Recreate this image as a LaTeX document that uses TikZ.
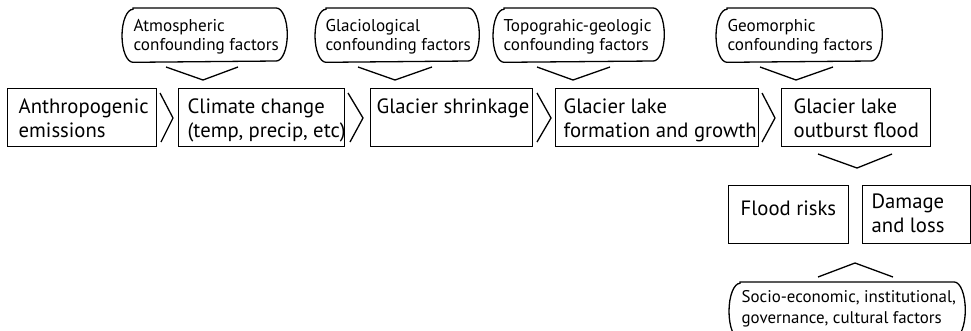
\documentclass[tikz,border=0pt]{standalone}
\usepackage{fontspec}
\setmainfont{PT Sans}
\usetikzlibrary{calc}
\newcommand\factorshape[1]{%
  \draw[line width=1.3pt] ([xshift=11pt]#1.north west) -- ([xshift=-11pt]#1.north east)
    arc[start angle=90, end angle=-90, x radius=11pt, y radius=0.5*\pgfkeysvalueof{/pgf/minimum height}]
    -- ([xshift=11pt]#1.south west)
    arc[start angle=270, end angle=90, x radius=11pt, y radius=0.5*\pgfkeysvalueof{/pgf/minimum height}]
    -- cycle;}
\begin{document}
\begin{tikzpicture}[x=1pt,y=-1pt,
  line width=1.3pt,
  mainbox/.style={draw, anchor=north west, inner sep=0pt, minimum height=58pt},
  factorbox/.style={anchor=north west, inner sep=0pt, minimum height=53pt},
  maintext/.style={anchor=base west, inner sep=0pt, align=left, font=\fontsize{20.7}{24}\selectfont},
  factortext/.style={anchor=base west, inner sep=0pt, align=left, font=\fontsize{17.1}{19}\selectfont},
  chev/.style={line width=1.3pt, line join=miter}
]
\useasboundingbox (0,0) rectangle (971,330);
% main row boxes
\node[mainbox, minimum width=149pt] (b1) at (7,88) {};
\node[mainbox, minimum width=166pt] (b2) at (178,88) {};
\node[mainbox, minimum width=162pt] (b3) at (370,88) {};
\node[mainbox, minimum width=203pt] (b4) at (555,88) {};
\node[mainbox, minimum width=149pt] (b5) at (781,88) {};
\node[maintext] (t1) at (18,137) {Anthropogenic\\emissions};
\node[maintext] (t2) at (187,137) {Climate change\\(temp, precip, etc)};
\node[maintext] (t3) at (376,113) {Glacier shrinkage};
\node[maintext] (t4) at (563,137) {Glacier lake\\formation and growth};
\node[maintext] (t5) at (793,137) {Glacier lake\\outburst flood};
% factor boxes
\begin{scope}[minimum height=53pt]
\node[factorbox, minimum width=164pt] (f1) at (122,8) {};
\node[factorbox, minimum width=163pt] (f2) at (315,8) {};
\node[factorbox, minimum width=170pt] (f3) at (493,8) {};
\node[factorbox, minimum width=165pt] (f4) at (716,8) {};
\factorshape{f1}
\factorshape{f2}
\factorshape{f3}
\factorshape{f4}
\end{scope}
\node[factortext] (g1) at (133,50) {Atmospheric\\confounding factors};
\node[factortext] (g2) at (325,50) {Glaciological\\confounding factors};
\node[factortext] (g3) at (503,50) {Topograhic-geologic\\confounding factors};
\node[factortext] (g4) at (727,50) {Geomorphic\\confounding factors};
% bottom
\node[mainbox, minimum width=120pt] (r1) at (728,185) {};
\node[mainbox, minimum width=107.5pt] (r2) at (862,185) {};
\node[maintext] (u1) at (740,215) {Flood risks};
\node[maintext] (u2) at (871,232) {Damage\\and loss};
\begin{scope}[minimum height=56pt]
\node[factorbox, minimum width=235pt, minimum height=56pt] (s1) at (729,282) {};
\factorshape{s1}
\end{scope}
\node[factortext, font=\fontsize{16.9}{21}\selectfont] (v1) at (741,323) {Socio-economic, institutional,\\governance, cultural factors};
% chevrons between main boxes
\draw[chev] (160,93) -- (173,118) -- (161,142);
\draw[chev] (348,93) -- (363,118) -- (350,142);
\draw[chev] (537,93) -- (551,118) -- (537,142);
\draw[chev] (762,93) -- (775,118) -- (762,142);
% down chevrons under factor boxes
\draw[chev] (166,67) -- (203,80) -- (238,67);
\draw[chev] (358,67) -- (395,80) -- (432,67);
\draw[chev] (537,67) -- (573,80) -- (610,67);
\draw[chev] (760,67) -- (796,80) -- (833,67);
\draw[chev] (818,154) -- (857,168) -- (892,154);
% up chevron
\draw[chev] (818,277) -- (855,263) -- (893,277);
\end{tikzpicture}
\end{document}
